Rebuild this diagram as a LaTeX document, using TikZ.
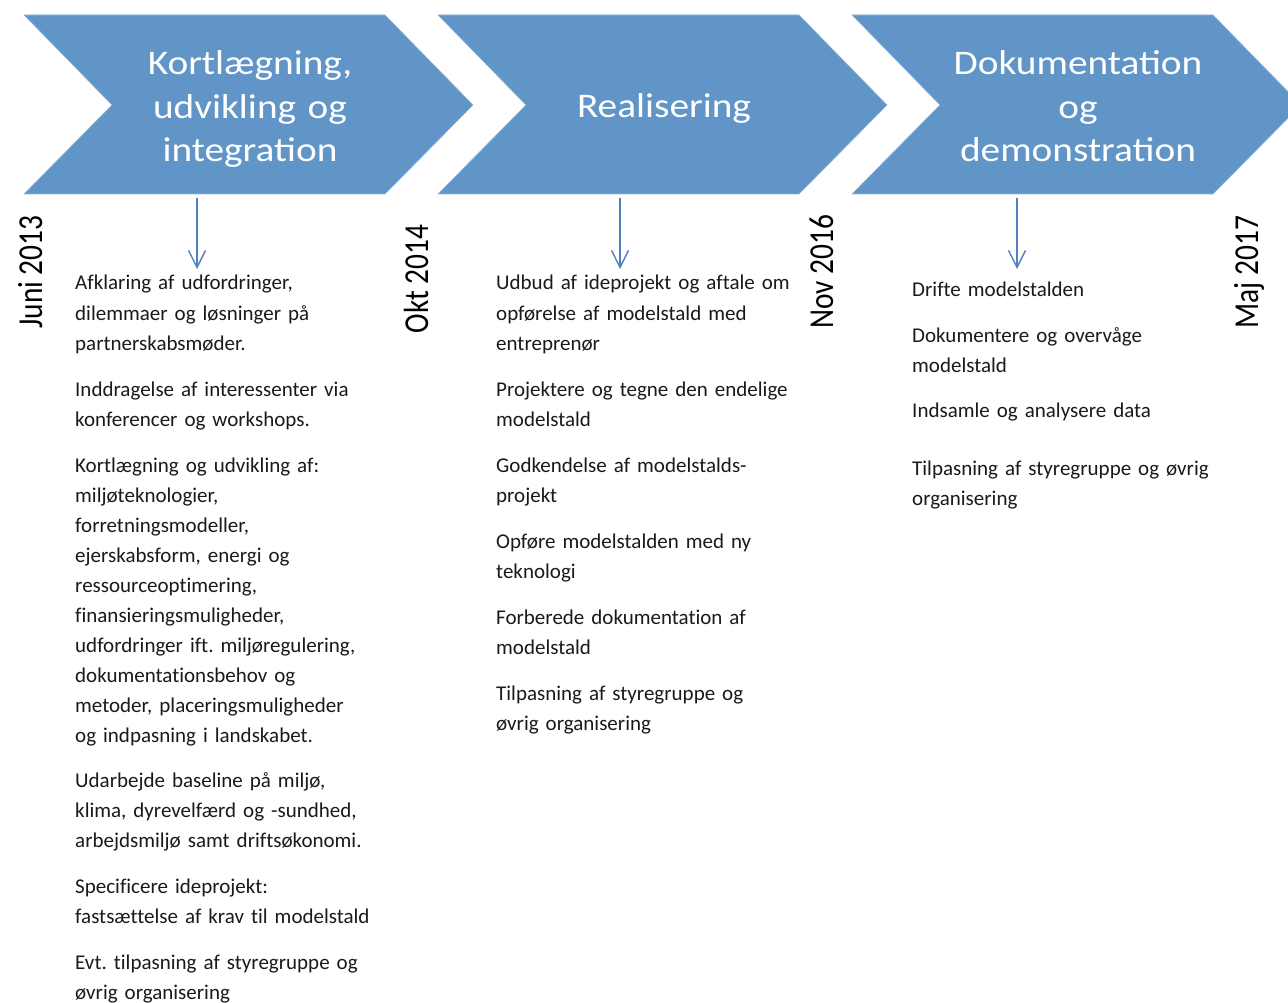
\documentclass[tikz,border=0pt]{standalone}
\usepackage{fontspec}
\setmainfont{Carlito}
\newfontfamily\titlefont[FakeStretch=1.14]{Carlito}
\newfontfamily\datefont[FakeStretch=0.84]{Carlito}
\newfontfamily\bodyfont[Ligatures=NoCommon]{Carlito}
\usetikzlibrary{arrows.meta}
\definecolor{chev}{RGB}{97,149,199}
\definecolor{arr}{RGB}{79,129,189}
\definecolor{bodytxt}{RGB}{26,26,26}
\begin{document}
\frenchspacing
\begin{tikzpicture}[x=1pt,y=-1pt,
  chevron/.style={fill=chev, draw=chev!70!white, line width=0.6pt},
  titletext/.style={text=white, font=\titlefont\fontsize{34.5}{43.5}\selectfont, align=center, text width=320pt, anchor=base, inner sep=0pt},
  datelabel/.style={font=\datefont\fontsize{35}{40}\selectfont, rotate=90, anchor=base, inner sep=0pt, text=black},
  para/.style={font=\bodyfont\fontsize{21}{30}\selectfont\frenchspacing, align=left, text width=330pt, anchor=base west, inner sep=0pt, text=bodytxt},
  down/.style={draw=arr, line width=1.4pt, -{Straight Barb[length=17pt,width=17pt,line width=1.4pt]}}
]
\clip (0,0) rectangle (1288,1003);
\fill[white] (0,0) rectangle (1288,1003);
% chevrons
\draw[chevron] (24,15) -- ++(361,0) -- ++(88,90) -- ++(-88,89) -- ++(-361,0) -- ++(88,-89) -- cycle;
\draw[chevron] (438,15) -- ++(361,0) -- ++(88,90) -- ++(-88,89) -- ++(-361,0) -- ++(88,-89) -- cycle;
\draw[chevron] (852,15) -- ++(361,0) -- ++(88,90) -- ++(-88,89) -- ++(-361,0) -- ++(88,-89) -- cycle;
% titles
\node[titletext] (t1) at (250,75) {Kortlægning,\\udvikling og\\integration};
\node[titletext] (t2) at (664,118) {Realisering};
\node[titletext] (t3) at (1078,75) {Dokumentation\\og\\demonstration};
% dates
\node[datelabel] (d1) at (42,272) {Juni 2013};
\node[datelabel] (d2) at (428,279) {Okt 2014};
\node[datelabel] (d3) at (833,272) {Nov 2016};
\node[datelabel] (d4) at (1258,272) {Maj 2017};
% arrows
\coordinate (a1s) at (197,198); \coordinate (a1e) at (197,269);
\coordinate (a2s) at (620,198); \coordinate (a2e) at (620,269);
\coordinate (a3s) at (1017,198); \coordinate (a3e) at (1017,269);
\draw[down] (a1s) -- (a1e);
\draw[down] (a2s) -- (a2e);
\draw[down] (a3s) -- (a3e);
% column 1
\node[para] (p11) at (75,290) {Afklaring af udfordringer,\\dilemmaer og løsninger på\\partnerskabsmøder.};
\node[para] (p12) at (75,396) {Inddragelse af interessenter via\\konferencer og workshops.};
\node[para] (p13) at (75,472) {Kortlægning og udvikling af:\\miljøteknologier,\\forretningsmodeller,\\ejerskabsform, energi og\\ressourceoptimering,\\finansieringsmuligheder,\\udfordringer ift. miljøregulering,\\dokumentationsbehov og\\metoder, placeringsmuligheder\\og indpasning i landskabet.};
\node[para] (p14) at (75,787) {Udarbejde baseline på miljø,\\klima, dyrevelfærd og -sundhed,\\arbejdsmiljø samt driftsøkonomi.};
\node[para] (p15) at (75,893) {Specificere ideprojekt:\\fastsættelse af krav til modelstald};
\node[para] (p16) at (75,969) {Evt. tilpasning af styregruppe og\\øvrig organisering};
% column 2
\node[para] (p21) at (496,290) {Udbud af ideprojekt og aftale om\\opførelse af modelstald med\\entreprenør};
\node[para] (p22) at (496,396) {Projektere og tegne den endelige\\modelstald};
\node[para] (p23) at (496,472) {Godkendelse af modelstalds-\\projekt};
\node[para] (p24) at (496,548) {Opføre modelstalden med ny\\teknologi};
\node[para] (p25) at (496,624) {Forberede dokumentation af\\modelstald};
\node[para] (p26) at (496,700) {Tilpasning af styregruppe og\\øvrig organisering};
% column 3
\node[para] (p31) at (912,296) {Drifte modelstalden};
\node[para] (p32) at (912,342) {Dokumentere og overvåge\\modelstald};
\node[para] (p33) at (912,417) {Indsamle og analysere data};
\node[para] (p34) at (912,475) {Tilpasning af styregruppe og øvrig\\organisering};
\end{tikzpicture}
\end{document}
